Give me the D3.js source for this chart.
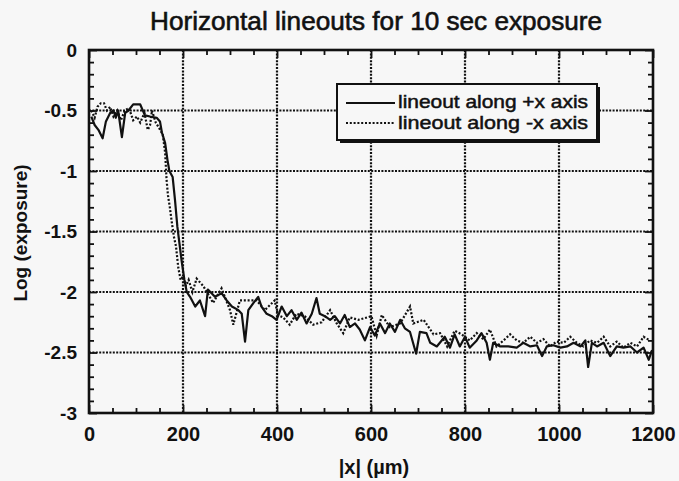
<!DOCTYPE html>
<html><head><meta charset="utf-8">
<script src="https://cdn.jsdelivr.net/npm/d3@7"></script>
<style>
html,body{margin:0;padding:0;background:#f7f7f7;}
svg{display:block;font-family:"Liberation Sans",Arial,sans-serif;}
</style></head>
<body><svg id="c" width="679" height="481"></svg>
<script>
const title = "Horizontal lineouts for 10 sec exposure";
const xLabel = "|x| (µm)";
const yLabel = "Log (exposure)";
const legendLabels = ["lineout along +x axis", "lineout along -x axis"];
const xTicks = [0, 200, 400, 600, 800, 1000, 1200];
const yTicks = [0, -0.5, -1, -1.5, -2, -2.5, -3];
const yTickLabels = ["0", "-0.5", "-1", "-1.5", "-2", "-2.5", "-3"];

// lineout along +x axis : [|x| in µm, log exposure]
const lineoutPlus = [
[5,-0.55],[12,-0.62],[20,-0.66],[29,-0.73],[36,-0.59],[45,-0.52],[52,-0.50],[57,-0.56],[62,-0.50],[70,-0.72],[77,-0.52],[84,-0.50],[94,-0.45],[109,-0.45],[119,-0.54],[130,-0.55],[144,-0.56],[151,-0.59],[155,-0.68],[162,-0.77],[167,-0.91],[171,-1.00],[178,-1.05],[183,-1.24],[188,-1.46],[197,-1.74],[203,-1.90],[208,-2.00],[215,-2.04],[226,-2.12],[236,-2.07],[247,-2.20],[253,-1.98],[268,-2.04],[282,-2.01],[293,-2.07],[304,-2.12],[318,-2.15],[325,-2.18],[332,-2.41],[339,-2.15],[350,-2.09],[360,-2.04],[367,-2.12],[378,-2.18],[389,-2.20],[399,-2.23],[410,-2.12],[421,-2.20],[431,-2.15],[442,-2.23],[452,-2.17],[463,-2.26],[474,-2.18],[484,-2.05],[491,-2.18],[502,-2.20],[513,-2.23],[523,-2.20],[534,-2.26],[544,-2.19],[555,-2.29],[566,-2.26],[576,-2.31],[587,-2.40],[598,-2.29],[608,-2.36],[619,-2.26],[630,-2.34],[640,-2.26],[651,-2.33],[662,-2.23],[672,-2.30],[683,-2.33],[696,-2.51],[704,-2.33],[718,-2.34],[726,-2.42],[740,-2.45],[757,-2.37],[768,-2.46],[778,-2.35],[789,-2.45],[800,-2.37],[810,-2.46],[825,-2.40],[835,-2.34],[846,-2.42],[853,-2.56],[860,-2.42],[875,-2.45],[892,-2.45],[910,-2.46],[924,-2.42],[939,-2.45],[953,-2.44],[964,-2.53],[974,-2.45],[988,-2.44],[1003,-2.46],[1017,-2.45],[1031,-2.42],[1046,-2.45],[1056,-2.40],[1062,-2.62],[1070,-2.42],[1081,-2.45],[1095,-2.42],[1109,-2.53],[1123,-2.45],[1137,-2.46],[1152,-2.45],[1166,-2.50],[1180,-2.46],[1191,-2.56],[1198,-2.48]
];
// lineout along -x axis
const lineoutMinus = [
[5,-0.50],[12,-0.56],[18,-0.47],[25,-0.44],[32,-0.44],[38,-0.50],[45,-0.47],[52,-0.55],[60,-0.50],[68,-0.58],[76,-0.50],[85,-0.48],[94,-0.58],[102,-0.55],[109,-0.60],[118,-0.52],[125,-0.66],[130,-0.62],[134,-0.50],[142,-0.60],[150,-0.65],[157,-0.70],[162,-0.85],[165,-1.07],[168,-1.20],[172,-1.30],[176,-1.42],[181,-1.55],[185,-1.62],[190,-1.80],[195,-1.90],[200,-1.87],[206,-1.95],[212,-1.90],[220,-2.00],[229,-1.89],[243,-1.95],[254,-2.02],[264,-2.09],[282,-1.97],[300,-2.15],[307,-2.27],[321,-2.07],[339,-2.07],[357,-2.07],[374,-2.15],[395,-2.07],[402,-2.19],[413,-2.21],[427,-2.27],[441,-2.18],[459,-2.20],[477,-2.27],[495,-2.25],[513,-2.15],[527,-2.26],[541,-2.34],[555,-2.21],[573,-2.23],[601,-2.20],[612,-2.36],[623,-2.19],[640,-2.29],[662,-2.26],[683,-2.12],[690,-2.26],[712,-2.23],[733,-2.35],[747,-2.34],[762,-2.45],[778,-2.32],[793,-2.35],[810,-2.40],[825,-2.34],[839,-2.39],[853,-2.31],[867,-2.45],[882,-2.40],[896,-2.35],[910,-2.40],[924,-2.42],[939,-2.37],[953,-2.42],[967,-2.39],[981,-2.45],[995,-2.41],[1010,-2.42],[1024,-2.37],[1038,-2.42],[1052,-2.45],[1066,-2.40],[1081,-2.42],[1095,-2.37],[1109,-2.45],[1123,-2.41],[1137,-2.46],[1152,-2.42],[1166,-2.45],[1180,-2.37],[1193,-2.40]
];

const L = 89, R = 653, T = 50, B = 413;
const x = d3.scaleLinear().domain([0, 1200]).range([L, R]);
const y = d3.scaleLinear().domain([-3, 0]).range([B, T]);
const svg = d3.select("#c");
const ink = "#111";
const bg = "#f7f7f7";

// gridlines
const gx = xTicks.slice(1, -1), gy = yTicks.slice(1, -1);
const grid = svg.append("g").attr("stroke", ink).attr("stroke-width", 2.2).attr("stroke-dasharray", "2,1.4");
grid.selectAll(".vx").data(gx).join("line").attr("x1", d => x(d)).attr("x2", d => x(d)).attr("y1", T).attr("y2", B);
grid.selectAll(".hy").data(gy).join("line").attr("y1", d => y(d)).attr("y2", d => y(d)).attr("x1", L).attr("x2", R);

// minor ticks
const xMinor = d3.range(0, 1201, 50).filter(v => v % 200 !== 0);
const yMinor = d3.range(-30, 1, 1).map(v => v / 10).filter(v => Math.abs(Math.round(v * 10)) % 5 !== 0);

function styleAxis(g) {
  g.select(".domain").remove();
  g.selectAll("line").attr("stroke", ink).attr("stroke-width", 1.8);
}
svg.append("g").attr("transform", `translate(0,${B})`)
  .call(d3.axisBottom(x).tickValues(xMinor).tickSize(-5).tickFormat("")).call(styleAxis);
svg.append("g").attr("transform", `translate(0,${T})`)
  .call(d3.axisTop(x).tickValues(xMinor).tickSize(-5).tickFormat("")).call(styleAxis);
svg.append("g").attr("transform", `translate(${L},0)`)
  .call(d3.axisLeft(y).tickValues(yMinor).tickSize(-5).tickFormat("")).call(styleAxis);
svg.append("g").attr("transform", `translate(${R},0)`)
  .call(d3.axisRight(y).tickValues(yMinor).tickSize(-5).tickFormat("")).call(styleAxis);

// major ticks + labels
const xa = svg.append("g").attr("transform", `translate(0,${B})`)
  .call(d3.axisBottom(x).tickValues(xTicks).tickSize(-8).tickPadding(14).tickFormat(d3.format("d")));
xa.call(styleAxis);
xa.selectAll("text").attr("font-size", 20).attr("font-weight", "bold").attr("fill", ink)
  .attr("font-family", "'Liberation Sans',Arial,sans-serif");
svg.append("g").attr("transform", `translate(0,${T})`)
  .call(d3.axisTop(x).tickValues(xTicks).tickSize(-8).tickFormat("")).call(styleAxis);
const ya = svg.append("g").attr("transform", `translate(${L},0)`)
  .call(d3.axisLeft(y).tickValues(yTicks).tickSize(-8).tickPadding(12).tickFormat((d, i) => yTickLabels[i]));
ya.call(styleAxis);
ya.selectAll("text").attr("font-size", 19).attr("font-weight", "bold").attr("fill", ink)
  .attr("font-family", "'Liberation Sans',Arial,sans-serif");
svg.append("g").attr("transform", `translate(${R},0)`)
  .call(d3.axisRight(y).tickValues(yTicks).tickSize(-8).tickFormat("")).call(styleAxis);

// frame
svg.append("rect").attr("x", L).attr("y", T).attr("width", R - L).attr("height", B - T)
  .attr("fill", "none").attr("stroke", ink).attr("stroke-width", 2.6);

// data lines
const line = d3.line().x(d => x(d[0])).y(d => y(d[1]));
svg.append("path").datum(lineoutMinus).attr("d", line).attr("fill", "none")
  .attr("stroke", ink).attr("stroke-width", 2.2).attr("stroke-dasharray", "2,1.8");
svg.append("path").datum(lineoutPlus).attr("d", line).attr("fill", "none")
  .attr("stroke", ink).attr("stroke-width", 2.2).attr("stroke-linejoin", "round");

// legend
const lg = svg.append("g");
lg.append("rect").attr("x", 340).attr("y", 87).attr("width", 260).attr("height", 56).attr("fill", ink);
lg.append("rect").attr("x", 337).attr("y", 84).attr("width", 260).attr("height", 56)
  .attr("fill", bg).attr("stroke", ink).attr("stroke-width", 2);
lg.append("line").attr("x1", 346).attr("x2", 395).attr("y1", 103).attr("y2", 103)
  .attr("stroke", ink).attr("stroke-width", 2.2);
lg.append("line").attr("x1", 346).attr("x2", 395).attr("y1", 123).attr("y2", 123)
  .attr("stroke", ink).attr("stroke-width", 2.2).attr("stroke-dasharray", "2,1.8");
lg.selectAll("text").data(legendLabels).join("text")
  .attr("x", 398).attr("y", (d, i) => 108 + i * 21).attr("font-size", 18.5)
  .attr("textLength", 190).attr("lengthAdjust", "spacingAndGlyphs")
  .attr("fill", ink).attr("stroke", ink).attr("stroke-width", 0.5).text(d => d);

// titles
svg.append("text").attr("x", 376).attr("y", 30).attr("text-anchor", "middle")
  .attr("font-size", 26).attr("fill", ink).attr("stroke", ink).attr("stroke-width", 0.6)
  .attr("textLength", 452).attr("lengthAdjust", "spacingAndGlyphs").text(title);
svg.append("text").attr("x", 374).attr("y", 474).attr("text-anchor", "middle")
  .attr("font-size", 20).attr("font-weight", "bold").attr("fill", ink).text(xLabel);
svg.append("text").attr("transform", "translate(27,233) rotate(-90)").attr("text-anchor", "middle")
  .attr("font-size", 19).attr("font-weight", "bold").attr("fill", ink).text(yLabel);
</script></body></html>
